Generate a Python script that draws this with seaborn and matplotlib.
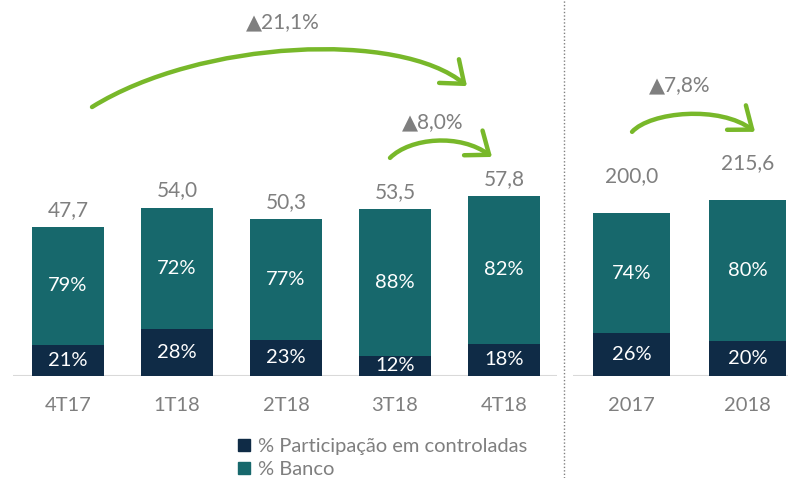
import matplotlib
matplotlib.use('Agg')
import matplotlib.pyplot as plt
import seaborn as sns
import pandas as pd
from matplotlib.lines import Line2D
from matplotlib.patches import Patch, FancyArrowPatch
from matplotlib.path import Path

# quarterly data
quarters = ['4T17', '1T18', '2T18', '3T18', '4T18']
quarter_totals = [47.7, 54.0, 50.3, 53.5, 57.8]
quarter_pct_controladas = [21, 28, 23, 12, 18]
quarter_pct_banco = [79, 72, 77, 88, 82]

# yearly data
years = ['2017', '2018']
year_totals = [200.0, 215.6]
year_pct_controladas = [26, 20]
year_pct_banco = [74, 80]

deltas = ['\u25b221,1%', '\u25b28,0%', '\u25b27,8%']

TEAL = '#17686C'
NAVY = '#0F2B46'
GREEN = '#78B82A'
GRAY = '#7F7F7F'

sns.set_style('white')
plt.rcParams['font.family'] = ['Lato', 'DejaVu Sans']

W, H = 788, 478
fig = plt.figure(figsize=(W / 100, H / 100), dpi=100)

bottom = (H - 376) / H
height = 376 / H
ax_q = fig.add_axes([13 / W, bottom, 544 / W, height])
ax_y = fig.add_axes([573 / W, bottom, 215 / W, height])


def draw_panel(ax, cats, totals, pct_ctrl, pct_banco, ymax, label_offset):
    df = pd.DataFrame({'cat': cats, 'total': totals, 'pct_ctrl': pct_ctrl, 'pct_banco': pct_banco})
    df['ctrl'] = df['total'] * df['pct_ctrl'] / 100
    sns.barplot(data=df, x='cat', y='total', color=TEAL, width=0.66, saturation=1,
                edgecolor='none', ax=ax)
    sns.barplot(data=df, x='cat', y='ctrl', color=NAVY, width=0.66, saturation=1,
                edgecolor='none', ax=ax)
    for i, row in df.iterrows():
        ax.annotate(f"{row['total']:.1f}".replace('.', ','), (i, row['total']),
                    xytext=(0, label_offset), textcoords='offset points',
                    ha='center', va='bottom', fontsize=15, color=GRAY)
        ax.text(i, (row['total'] + row['ctrl']) / 2, f"{row['pct_banco']}%",
                ha='center', va='center', fontsize=14.5, color='white')
        ax.text(i, row['ctrl'] / 2, f"{row['pct_ctrl']}%",
                ha='center', va='center', fontsize=14.5, color='white')
    ax.axhline(0, color='#D9D9D9', lw=1.5, zorder=0)
    ax.set_ylim(0, ymax)
    ax.set_xlabel('')
    ax.set_ylabel('')
    ax.set_yticks([])
    ax.tick_params(axis='x', length=0, pad=15, labelsize=14.5, labelcolor=GRAY)
    sns.despine(ax=ax, left=True, bottom=True)


draw_panel(ax_q, quarters, quarter_totals, quarter_pct_controladas, quarter_pct_banco, 120.5, 5)
ax_q.set_xlim(-0.505, 4.486)
draw_panel(ax_y, years, year_totals, year_pct_controladas, year_pct_banco, 460, 19)
ax_y.set_xlim(-0.504, 1.349)


def curved_arrow(ax, pts):
    # cubic bezier: start, two control points, end (data coords)
    path = Path(pts, [Path.MOVETO, Path.CURVE4, Path.CURVE4, Path.CURVE4])
    arrow = FancyArrowPatch(path=path, arrowstyle='->,head_length=0.95,head_width=0.74',
                            color=GREEN, lw=3.2, mutation_scale=15,
                            transform=ax.transData, clip_on=False)
    ax.add_patch(arrow)


curved_arrow(ax_q, [(0.22, 86.2), (1.21, 107.7), (3.045, 110.9), (3.66, 92.9)])
curved_arrow(ax_q, [(2.954, 69.9), (3.137, 76.3), (3.596, 77.9), (3.89, 70.2)])
curved_arrow(ax_y, [(0.005, 298.7), (0.160, 323.1), (0.763, 331.7), (1.065, 298.7)])

ax_q.text(1.97, 113.5, deltas[0], ha='center', va='center', fontsize=15, color=GRAY)
ax_q.text(3.35, 81.4, deltas[1], ha='center', va='center', fontsize=15, color=GRAY)
ax_y.text(0.418, 356, deltas[2], ha='center', va='center', fontsize=15, color=GRAY)

# dotted separator
fig.add_artist(Line2D([564 / W, 564 / W], [0, 1], transform=fig.transFigure,
                      ls=(0, (1, 1.5)), color='#808080', lw=1))

handles = [Patch(color=NAVY, label='% Participação em controladas'),
           Patch(color=TEAL, label='% Banco')]
fig.legend(handles=handles, loc='upper left', bbox_to_anchor=(228 / W, (H - 428) / H),
           frameon=False, fontsize=14.5, labelcolor=GRAY, handlelength=0.6,
           handleheight=0.6, handletextpad=0.4, labelspacing=0.3, borderpad=0)

fig.savefig('out.png', dpi=100)
